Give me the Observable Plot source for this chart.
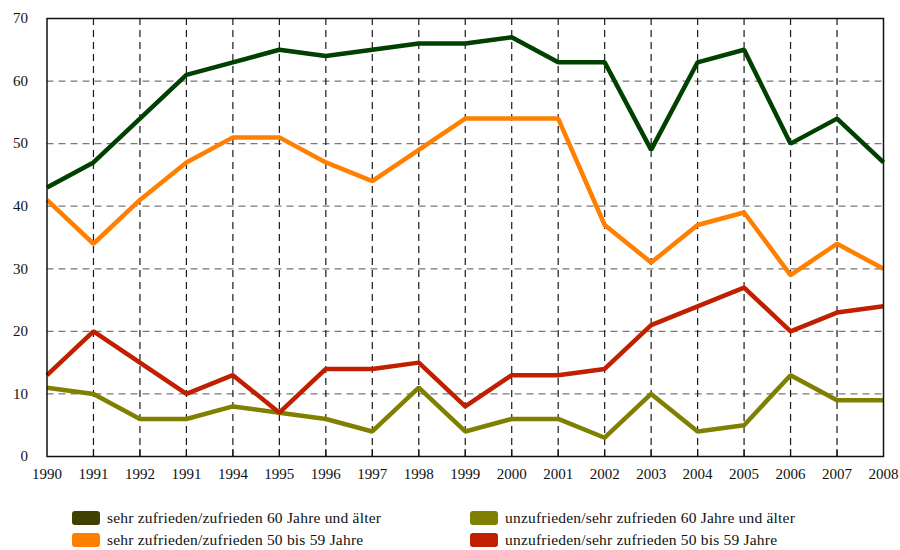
<!DOCTYPE html>
<html>
<head>
<meta charset="utf-8">
<script src="https://cdn.jsdelivr.net/npm/d3@7"></script>
<script src="https://cdn.jsdelivr.net/npm/@observablehq/plot@0.6"></script>
<style>
  html, body { margin: 0; padding: 0; background: #fff; }
  body { width: 900px; height: 550px; font-family: "Liberation Serif", "Times New Roman", Tinos, "DejaVu Serif", serif; }
  #chart svg text { font-family: "Liberation Serif", "Times New Roman", Tinos, "DejaVu Serif", serif; }
  #legend { position: relative; height: 50px; font-size: 15.5px; letter-spacing: 0.2px; color: #111; }
  .item { position: absolute; display: flex; align-items: center; white-space: nowrap; }
  .sw { width: 28px; height: 14px; border-radius: 3px; margin-right: 7px; }
</style>
</head>
<body>
<div id="chart"></div>
<div id="legend"></div>
<script>
const years = ["1990","1991","1992","1991","1994","1995","1996","1997","1998","1999","2000","2001","2002","2003","2004","2005","2006","2007","2008"];
const seriesNames = [
  "sehr zufrieden/zufrieden 60 Jahre und älter",
  "sehr zufrieden/zufrieden 50 bis 59 Jahre",
  "unzufrieden/sehr zufrieden 60 Jahre und älter",
  "unzufrieden/sehr zufrieden 50 bis 59 Jahre"
];
const zufrieden60 = [43,47,54,61,63,65,64,65,66,66,67,63,63,49,63,65,50,54,47];
const zufrieden50 = [41,34,41,47,51,51,47,44,49,54,54,54,37,31,37,39,29,34,30];
const unzufrieden60 = [11,10,6,6,8,7,6,4,11,4,6,6,3,10,4,5,13,9,9];
const unzufrieden50 = [13,20,15,10,13,7,14,14,15,8,13,13,14,21,24,27,20,23,24];
const lineColors = ["#004000","#ff8000","#808000","#c02000"];
const swatchColors = ["#404000","#ff8000","#808000","#c02000"];
const yTicks = [0,10,20,30,40,50,60,70];

const allSeries = [zufrieden60, zufrieden50, unzufrieden60, unzufrieden50];
const rows = [];
allSeries.forEach((vals, s) => vals.forEach((v, i) => rows.push({i, v, s: seriesNames[s]})));
const idx = years.map((_, i) => i);

const chart = Plot.plot({
  width: 900,
  height: 500,
  marginLeft: 46.5,
  marginRight: 17,
  marginTop: 18,
  marginBottom: 44,
  style: { fontFamily: "'Liberation Serif', 'Times New Roman', serif", fontSize: "15px", color: "#111", background: "#fff" },
  x: { type: "linear", domain: [0, years.length - 1] },
  y: { domain: [0, 70] },
  color: { domain: seriesNames, range: lineColors },
  marks: [
    Plot.ruleY(yTicks.slice(1, -1), { stroke: "#7a7a7a", strokeWidth: 1.2, strokeDasharray: "7,5" }),
    Plot.ruleX(idx.slice(1, -1), { stroke: "#1a1a1a", strokeWidth: 1.2, strokeDasharray: "7,5" }),
    Plot.axisX(idx.slice(1, -1), { tickSize: -7, tickFormat: () => "", stroke: "#111", strokeWidth: 1.2, label: null }),
    Plot.axisX(idx, { tickFormat: i => years[i], tickSize: 0, tickPadding: 12, fontSize: 15, label: null }),
    Plot.axisY(yTicks, { tickSize: 0, tickPadding: 19, fontSize: 15, label: null }),
    Plot.line(rows, { x: "i", y: "v", z: "s", stroke: "s", strokeWidth: 4.5, strokeLinejoin: "miter", strokeLinecap: "butt" }),
    Plot.frame({ stroke: "#111", strokeWidth: 1.5 })
  ]
});
document.getElementById("chart").appendChild(chart);

const legend = document.getElementById("legend");
const pos = [[72, 9], [72, 31], [470, 9], [470, 31]];
seriesNames.forEach((name, k) => {
  const it = document.createElement("div");
  it.className = "item";
  it.style.left = pos[k][0] + "px";
  it.style.top = pos[k][1] + "px";
  const sw = document.createElement("div");
  sw.className = "sw";
  sw.style.background = swatchColors[k];
  const tx = document.createElement("span");
  tx.textContent = name;
  it.appendChild(sw);
  it.appendChild(tx);
  legend.appendChild(it);
});
</script>
</body>
</html>
